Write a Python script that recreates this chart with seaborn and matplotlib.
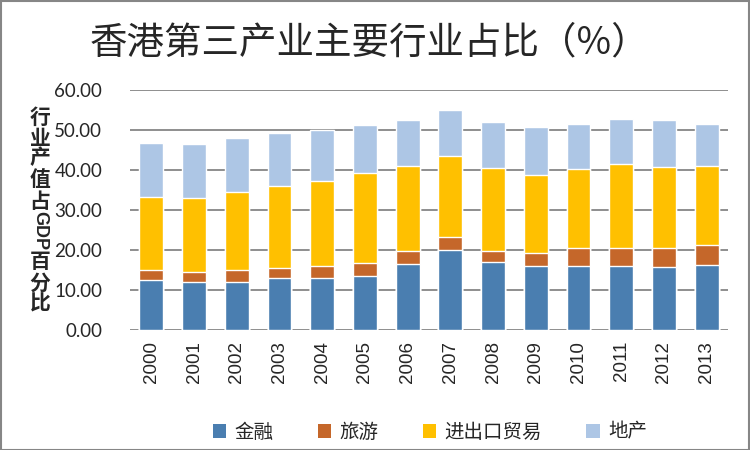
import seaborn as sns
import matplotlib.pyplot as plt
import numpy as np
from matplotlib.patches import Patch, Rectangle

years = ["2000", "2001", "2002", "2003", "2004", "2005", "2006",
         "2007", "2008", "2009", "2010", "2011", "2012", "2013"]
finance = [12.6, 12.1, 12.1, 13.1, 13.1, 13.6, 16.6, 20.1, 17.1, 16.1, 16.1, 16.1, 15.8, 16.3]
tourism = [2.4, 2.3, 2.9, 2.4, 2.9, 3.2, 3.2, 3.2, 2.7, 3.2, 4.4, 4.4, 4.8, 5.0]
trade = [18.3, 18.7, 19.6, 20.6, 21.3, 22.5, 21.2, 20.2, 20.7, 19.4, 19.7, 21.0, 20.2, 19.8]
property_ = [13.5, 13.4, 13.4, 13.2, 12.6, 12.0, 11.5, 11.5, 11.5, 12.1, 11.3, 11.3, 11.6, 10.5]

series_names = ["金融", "旅游", "进出口贸易", "地产"]
colors = ["#4A7EB0", "#C5672A", "#FFC000", "#ADC6E5"]

sns.set_style("white")
plt.rcParams["font.family"] = ["Noto Sans CJK SC", "DejaVu Sans"]

fig = plt.figure(figsize=(7.5, 4.5), dpi=100)
ax = fig.add_axes([0.1733, 0.2667, 0.7974, 0.5333])

stack = np.cumsum(np.array([finance, tourism, trade, property_]), axis=0)
# draw tallest (cumulative) first so lower segments sit on top
for i in range(3, -1, -1):
    sns.barplot(x=years, y=stack[i], color=colors[i], width=0.56,
                saturation=1, ax=ax, zorder=3)

ax.set_ylim(0, 60)
ax.set_xlim(-0.5, 13.5)
ax.set_yticks(np.arange(0, 61, 10))
ax.set_yticklabels([f"{v:.2f}" for v in np.arange(0, 61, 10)],
                   family=["Lato", "DejaVu Sans"], fontsize=13.5)
ax.set_xticks(range(len(years)))
ax.set_xticklabels(years, rotation=90, family=["Liberation Sans"], fontsize=13.5)
ax.tick_params(axis="y", pad=20, length=0)
ax.tick_params(axis="x", pad=8, length=0)
ax.grid(axis="y", color="#868686", linewidth=1.3, zorder=0)
for s in ax.spines.values():
    s.set_visible(False)
ax.set_xlabel("")
ax.set_ylabel("")

fig.text(0.492, 0.905, "香港第三产业主要行业占比（%）", ha="center", va="center", fontsize=27)

# vertical y-axis label
ylabel_chars = [("行", 117), ("业", 138), ("产", 158), ("值", 180), ("占", 201),
                ("百", 262), ("分", 283), ("比", 303)]
for ch, py in ylabel_chars:
    fig.text(40 / 750, 1 - py / 450, ch, ha="center", va="center",
             fontsize=15, fontweight="bold")
fig.text(40 / 750, 1 - 231 / 450, "GDP", ha="center", va="center", rotation=-90,
         fontsize=13, fontweight="bold", family=["Liberation Sans"])

handles = [Patch(facecolor=c, edgecolor="none") for c in colors]
fig.legend(handles, series_names, loc="center", bbox_to_anchor=(0.573, 0.04),
           ncol=4, frameon=False, fontsize=14, handlelength=0.7, handleheight=0.7,
           handletextpad=0.4, columnspacing=2.3)

fig.patches.append(Rectangle((0.001, 0.001), 0.998, 0.997, transform=fig.transFigure,
                             fill=False, edgecolor="#868686", linewidth=1.5))

plt.savefig("out.png", dpi=100)
